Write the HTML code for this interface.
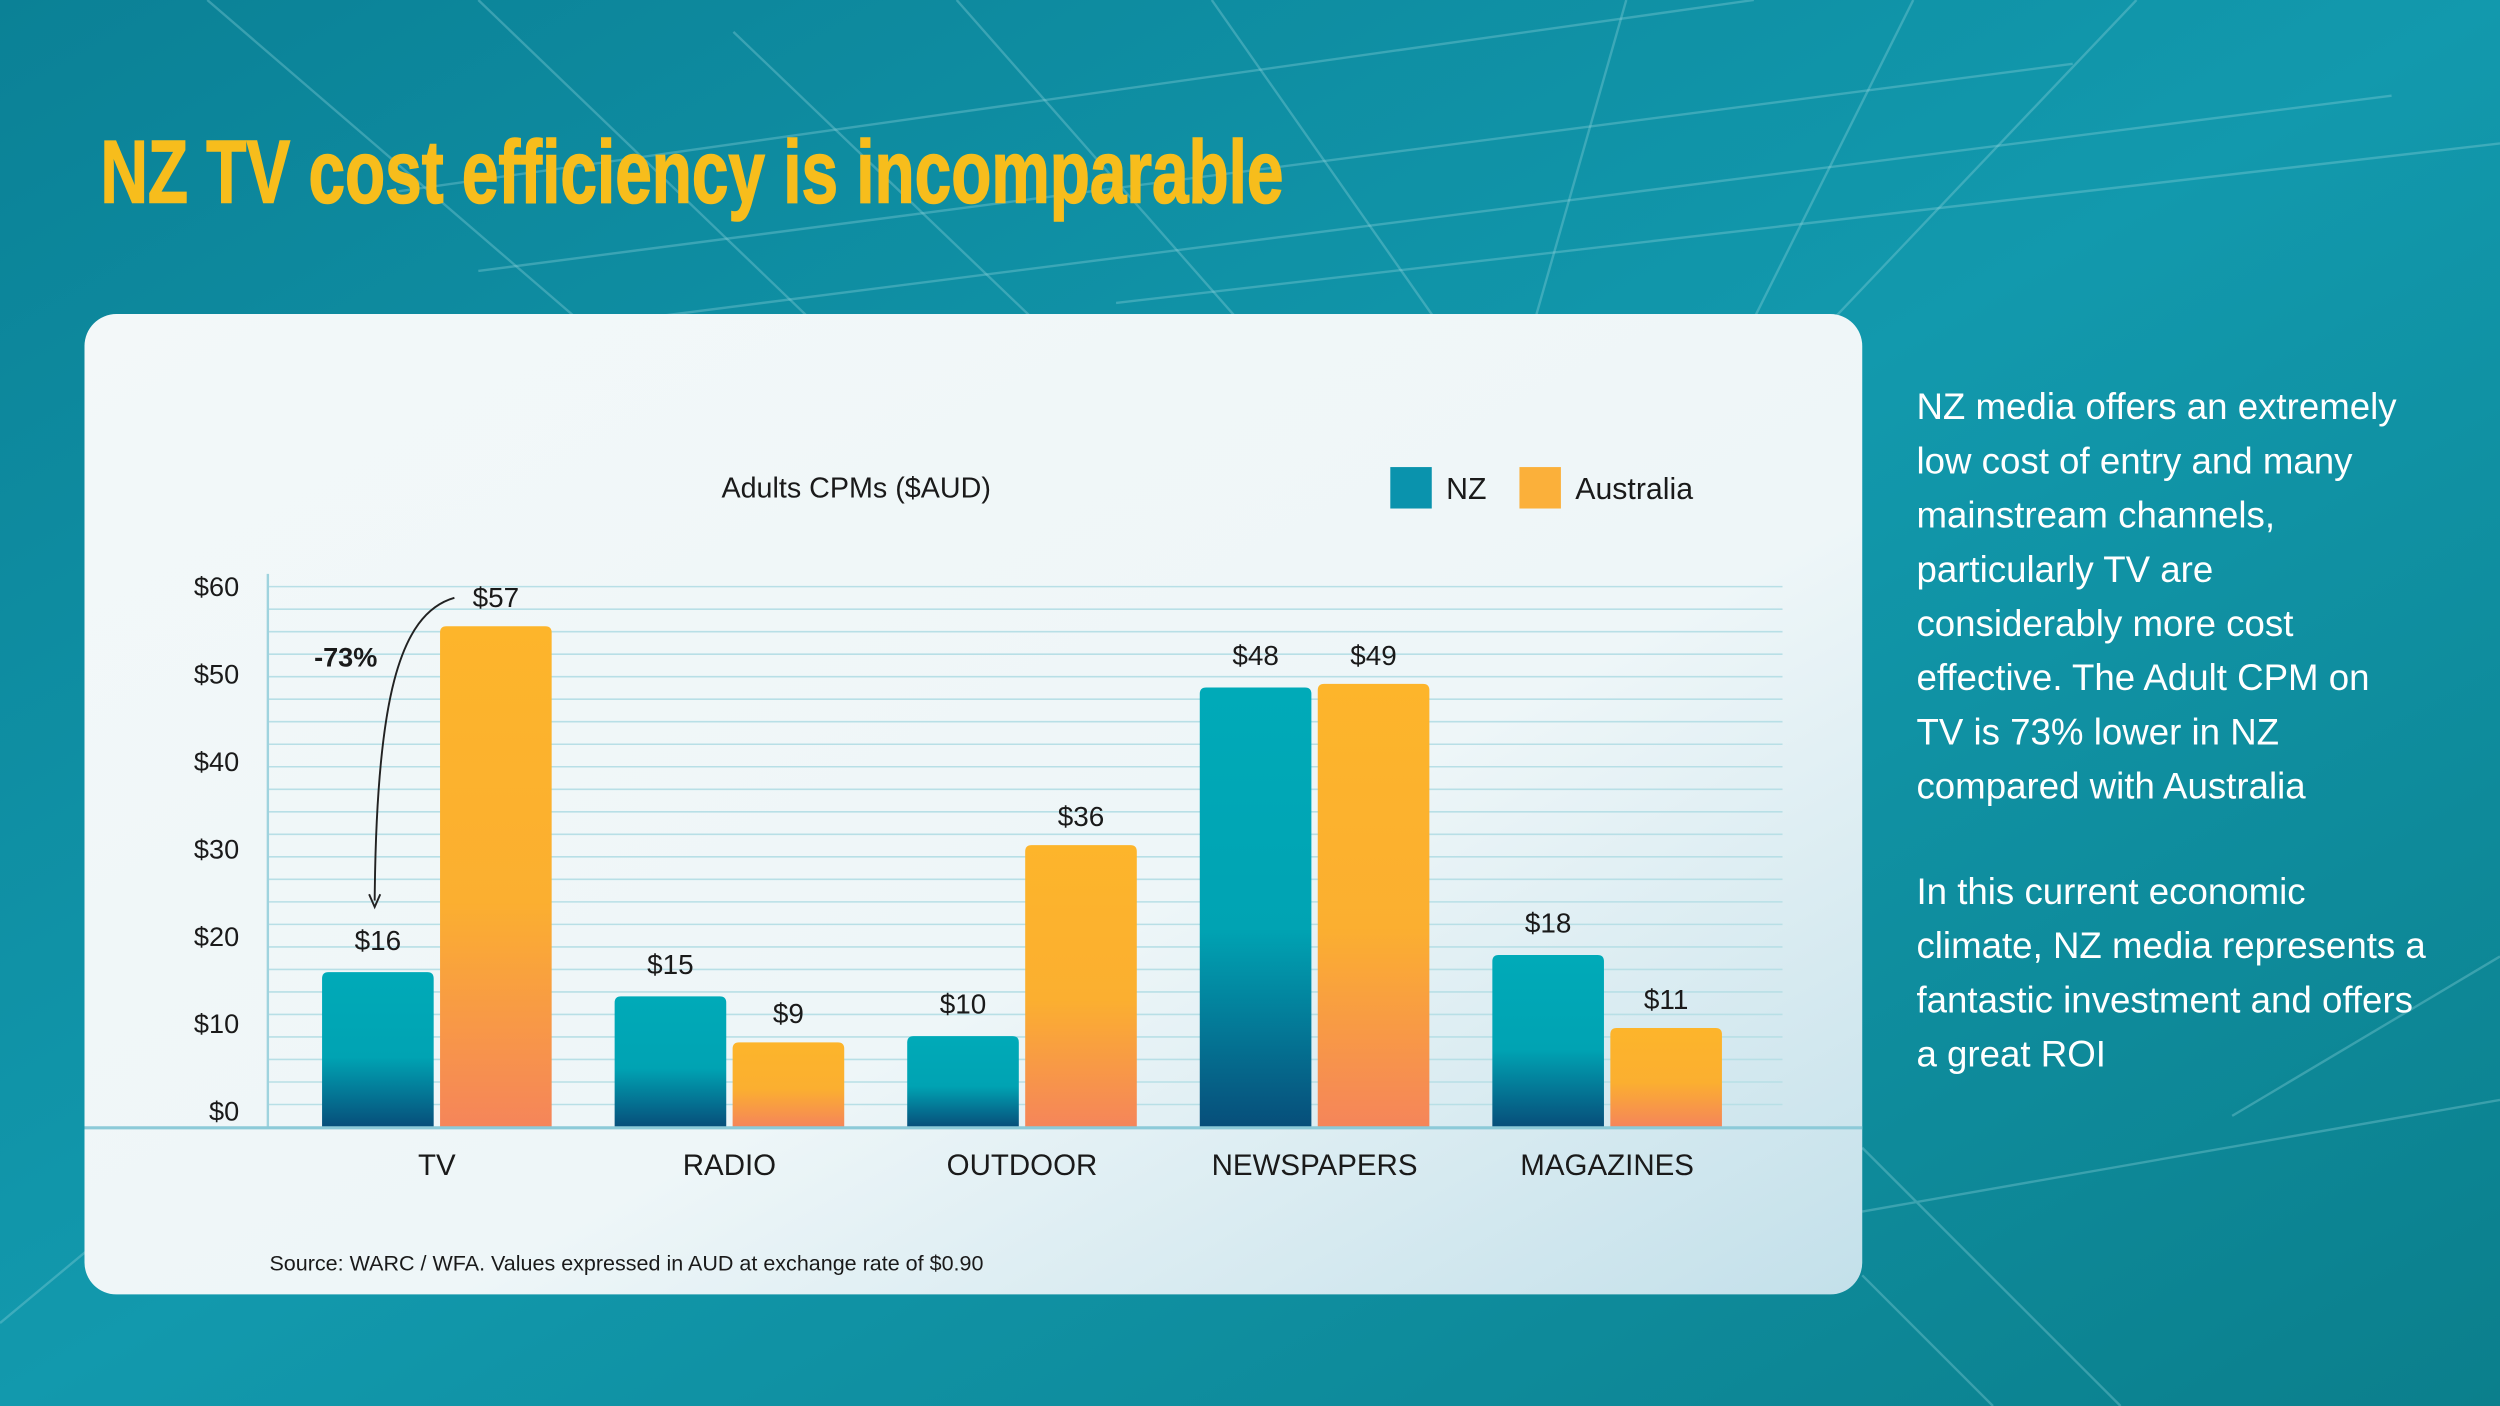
<!DOCTYPE html>
<html><head><meta charset="utf-8"><style>
html,body{margin:0;padding:0;width:2500px;height:1406px;overflow:hidden;background:#0e8d9f}
svg{display:block}
text{font-family:"Liberation Sans",sans-serif}
</style></head><body>
<svg id="root" width="2500" height="1406" viewBox="0 0 1568 882" preserveAspectRatio="none" xmlns="http://www.w3.org/2000/svg">
<defs>
<linearGradient id="bg" x1="0" y1="0" x2="1" y2="1"><stop offset="0" stop-color="#0b8196"/><stop offset="0.5" stop-color="#1299ad"/><stop offset="1" stop-color="#0b7f8c"/></linearGradient>
<linearGradient id="card" x1="0" y1="0" x2="1" y2="1"><stop offset="0" stop-color="#f3f8f9"/><stop offset="0.6" stop-color="#eef6f8"/><stop offset="1" stop-color="#c3e0ea"/></linearGradient>
<linearGradient id="nzg" x1="0" y1="0" x2="0" y2="1"><stop offset="0" stop-color="#00aab8"/><stop offset="0.55" stop-color="#00a3b3"/><stop offset="1" stop-color="#074e7a"/></linearGradient>
<linearGradient id="aug" x1="0" y1="0" x2="0" y2="1"><stop offset="0" stop-color="#fdb52b"/><stop offset="0.55" stop-color="#fbaf30"/><stop offset="1" stop-color="#f5855a"/></linearGradient>
</defs>
<rect width="1568" height="882" fill="url(#bg)"/>
<g stroke="#8fd3dc" stroke-opacity="0.35" stroke-width="1.5" fill="none">
<path d="M130 0 L420 250 M300 0 L560 250 M460 20 L700 250 M600 0 L820 250 M760 0 L900 200 M1020 0 L960 210 M1200 0 L1100 200 M1340 0 L1150 200"/>
<path d="M300 170 L1300 40 M250 120 L1100 0 M400 200 L1500 60 M700 190 L1568 90"/>
<path d="M1168 720 L1330 882 M1168 800 L1250 882 M0 830 L60 780 M1400 700 L1568 600 M1168 760 L1568 690"/>
</g>
<text x="63" y="127" font-family="Liberation Sans Narrow, Liberation Sans, sans-serif" font-weight="bold" font-size="56" fill="#f7bd1c" stroke="#f7bd1c" stroke-width="1" textLength="742" lengthAdjust="spacingAndGlyphs">NZ TV cost efficiency is incomparable</text>
<rect x="53" y="197" width="1115" height="615" rx="20" fill="url(#card)"/>
<text x="537" y="312" font-size="18" text-anchor="middle" fill="#1a1a1a">Adults CPMs ($AUD)</text>
<g>
<rect x="872" y="293" width="26" height="26" fill="#0a93ad"/>
<text x="907" y="313" font-size="19" fill="#1a1a1a">NZ</text>
<rect x="953" y="293" width="26" height="26" fill="#fbb03a"/>
<text x="988" y="313" font-size="19" fill="#1a1a1a">Australia</text>
</g>
<g id="grid"></g>
<g id="yticks"></g>
<line x1="168" y1="360" x2="168" y2="707" stroke="#9fd3de" stroke-width="1.5"/>
<g id="bars"></g>
<line x1="53" y1="707.5" x2="1168" y2="707.5" stroke="#8ccad8" stroke-width="2"/>
<g id="xlabels"></g>
<g>
<text x="197" y="418" font-size="17" font-weight="bold" fill="#1a1a1a">-73%</text>
<path d="M285 375 C250 385 236 440 235 565" fill="none" stroke="#222" stroke-width="1.2"/>
<path d="M231.5 561 L235 569 L238.5 561" fill="none" stroke="#222" stroke-width="1.2"/>
</g>
<text x="169" y="797" font-size="13.5" fill="#1a1a1a">Source: WARC / WFA. Values expressed in AUD at exchange rate of $0.90</text>
<g font-size="23" fill="#ffffff">
<text x="1202" y="263"><tspan x="1202">NZ media offers an extremely</tspan><tspan x="1202" dy="34">low cost of entry and many</tspan><tspan x="1202" dy="34">mainstream channels,</tspan><tspan x="1202" dy="34">particularly TV are</tspan><tspan x="1202" dy="34">considerably more cost</tspan><tspan x="1202" dy="34">effective.  The Adult CPM on</tspan><tspan x="1202" dy="34">TV is 73% lower in NZ</tspan><tspan x="1202" dy="34">compared with Australia</tspan></text>
<text x="1202" y="567"><tspan x="1202">In this current economic</tspan><tspan x="1202" dy="34">climate, NZ media represents a</tspan><tspan x="1202" dy="34">fantastic investment and offers</tspan><tspan x="1202" dy="34">a great ROI</tspan></text>
</g>
</svg>
<script>
const categories = ["TV", "RADIO", "OUTDOOR", "NEWSPAPERS", "MAGAZINES"];
const nzValues = [17.2, 14.5, 10.1, 48.8, 19.1];
const auValues = [55.6, 9.4, 31.3, 49.2, 11.0];
const nzLabels = ["$16", "$15", "$10", "$48", "$18"];
const auLabels = ["$57", "$9", "$36", "$49", "$11"];
const yTicks = [0, 10, 20, 30, 40, 50, 60];
const yTickLabels = ["$0", "$10", "$20", "$30", "$40", "$50", "$60"];
const gridStep = 2.5;

const NS = "http://www.w3.org/2000/svg";
const base = 707, top60 = 368;
function y(v){ return base - (base - top60) * v / 60; }
function yLabel(v){ return 697 - (697 - 368) * v / 60; }
function groupX(i){ return 202 + i * 183.5; }
const barW = 70, gap = 4;
function mk(tag, attrs, parent){ const e = document.createElementNS(NS, tag); for (const k in attrs) e.setAttribute(k, attrs[k]); parent.appendChild(e); return e; }

const grid = document.getElementById('grid');
for (let v = gridStep; v <= 60.01; v += gridStep) {
  const l = mk('line', {x1: 168, x2: 1118, y1: y(v), y2: y(v), stroke: '#b8dfe6', 'stroke-width': 1}, grid);
  
  
}
const yt = document.getElementById('yticks');
yTicks.forEach((v, i) => {
  const t = mk('text', {x: 150, y: yLabel(v) + 6, 'text-anchor': 'end', 'font-size': 17, fill: '#1a1a1a'}, yt);
  t.textContent = yTickLabels[i];
  
  
});
const bars = document.getElementById('bars');
const xl = document.getElementById('xlabels');
categories.forEach((c, i) => {
  const x0 = groupX(i);
  const b1 = mk('path', {d: roundTop(x0, y(nzValues[i]), barW, base - y(nzValues[i])), fill: 'url(#nzg)'}, bars);
  
  
  const x1 = x0 + barW + gap;
  const b2 = mk('path', {d: roundTop(x1, y(auValues[i]), barW, base - y(auValues[i])), fill: 'url(#aug)'}, bars);
  
  
  const l1 = mk('text', {x: x0 + barW / 2, y: y(nzValues[i]) - 14, 'text-anchor': 'middle', 'font-size': 17.5, fill: '#1a1a1a'}, bars);
  l1.textContent = nzLabels[i];
  
  
  const l2 = mk('text', {x: x1 + barW / 2, y: y(auValues[i]) - 12, 'text-anchor': 'middle', 'font-size': 17.5, fill: '#1a1a1a'}, bars);
  l2.textContent = auLabels[i];
  
  
  const cl = mk('text', {x: x0 + barW + gap / 2, y: 737, 'text-anchor': 'middle', 'font-size': 18.5, fill: '#1a1a1a'}, xl);
  cl.textContent = c;
  
  
});
function roundTop(x, yy, w, h){ const r = 4; return `M${x} ${yy + h} V${yy + r} Q${x} ${yy} ${x + r} ${yy} H${x + w - r} Q${x + w} ${yy} ${x + w} ${yy + r} V${yy + h} Z`; }
</script>
</body></html>
